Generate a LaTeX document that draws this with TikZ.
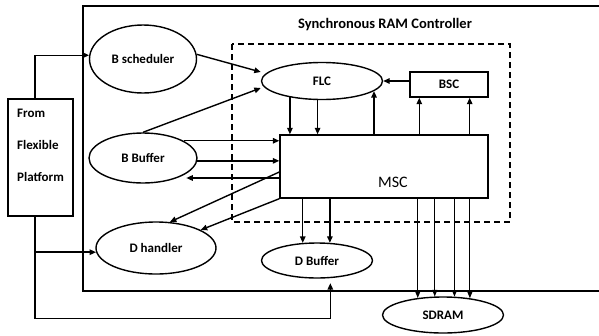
\documentclass[tikz,border=0pt]{standalone}
\usepackage{fontspec}
\setmainfont{Carlito}
\usetikzlibrary{arrows.meta,shapes.geometric}

\tikzset{
  wire/.style={line width=1.4pt,-{Triangle[length=6.5pt,width=5.5pt]}},
  thinwire/.style={line width=1pt,-{Triangle[length=6.5pt,width=5pt]}},
  blob/.style={ellipse,draw,line width=1.4pt,inner sep=0pt,font=\bfseries\fontsize{13}{15}\selectfont},
  unit/.style={rectangle,draw,line width=1.4pt,inner sep=0pt,font=\bfseries\fontsize{13}{15}\selectfont},
  lbl/.style={font=\bfseries\fontsize{13}{15}\selectfont,inner sep=0pt}
}

\begin{document}
\begin{tikzpicture}[x=1pt,y=-1pt]
\useasboundingbox (0,0) rectangle (599,335);

% controller outline (open on the right) and its title
\draw[line width=1.5pt] (600,6) -- (83,6) -- (83,291) -- (600,291);
\node[lbl,font=\bfseries\fontsize{14.5}{16}\selectfont] (title) at (385,25) {Synchronous RAM Controller};

% dashed boundary of the core logic
\draw[line width=1.3pt,dash pattern=on 6pt off 4pt] (232,44) rectangle (510,222);

% source block
\node[unit,minimum width=65pt,minimum height=117pt] (src) at (40.5,157.5) {};
\node[lbl,anchor=west] (l1) at (17,113) {From};
\node[lbl,anchor=west] (l2) at (17,145) {Flexible};
\node[lbl,anchor=west] (l3) at (17,177) {Platform};

% functional blocks
\node[blob,minimum width=107pt,minimum height=68pt] (bsch) at (143,59) {B scheduler};
\node[blob,minimum width=108pt,minimum height=50pt] (bbuf) at (143,158) {B Buffer};
\node[blob,minimum width=120pt,minimum height=52pt] (dhand) at (156,248) {D handler};
\node[blob,minimum width=121pt,minimum height=37pt] (flc) at (322,81) {FLC};
\node[unit,minimum width=78pt,minimum height=25pt] (bsc) at (449,84.5) {BSC};
\node[unit,minimum width=208pt,minimum height=63pt] (msc) at (384,166.5) {};
\node[font=\fontsize{16}{18}\selectfont,inner sep=0pt] (msclbl) at (393,182) {MSC};
\node[blob,minimum width=111pt,minimum height=35pt] (dbuf) at (317,260.5) {D Buffer};
\node[blob,minimum width=121pt,minimum height=36pt] (sdram) at (443,315) {SDRAM};

% feeds from the source block
\coordinate (trunkTop) at ([xshift=-5.5pt]src.north);
\coordinate (trunkBot) at ([xshift=-5.5pt]src.south);
\coordinate (dbufIn) at ([yshift=-5pt]dbuf.-53);
\draw[wire] (trunkTop) |- (bsch.176);
\draw[wire] (trunkBot) -- ++(0,102) -| (dbufIn);
\draw[wire] (trunkBot |- dhand.184) -- (dhand.184);

% into FLC
\draw[wire] (bsch.5) -- ([yshift=9pt]flc.west);
\draw[wire] (bbuf.north) -- ([yshift=-7pt]flc.west);
\draw[wire] (bsc.west |- flc.east) -- (flc.east);

% B Buffer <-> MSC
\draw[wire] (bbuf.23) -- (bbuf.23 -| msc.west);
\draw[wire] (bbuf.-3) -- (bbuf.-3 -| msc.west);
\draw[wire] ([yshift=-11.5pt]msc.west) -- ++(-93,0);

% MSC -> D handler
\draw[wire] ([yshift=-5.5pt]msc.west) -- (dhand.62);
\draw[wire] (msc.south west) -- (dhand.22);

% FLC <-> MSC
\draw[wire] (flc.207) -- (flc.207 |- msc.north);
\draw[wire] (flc.257.7) -- (flc.257.7 |- msc.north);
\draw[wire] (flc.349 |- msc.north) -- (flc.349);

% MSC -> BSC
\coordinate (bscA) at ([xshift=10pt]bsc.south west);
\coordinate (bscB) at ([xshift=-19pt]bsc.south east);
\draw[wire] (bscA |- msc.north) -- (bscA);
\draw[wire] (bscB |- msc.north) -- (bscB);

% MSC -> D Buffer
\draw[wire] (dbuf.129.6 |- msc.south) -- (dbuf.129.6);
\draw[wire] (dbuf.54.9 |- msc.south) -- (dbuf.54.9);

% MSC -> SDRAM
\draw[thinwire] (sdram.146.7 |- msc.south) -- (sdram.146.7);
\draw[thinwire] (sdram.114.2 |- msc.south) -- (sdram.114.2);
\draw[thinwire] (sdram.58.1 |- msc.south) -- (sdram.58.1);
\draw[thinwire] (sdram.32 |- msc.south) -- (sdram.32);
\end{tikzpicture}
\end{document}
